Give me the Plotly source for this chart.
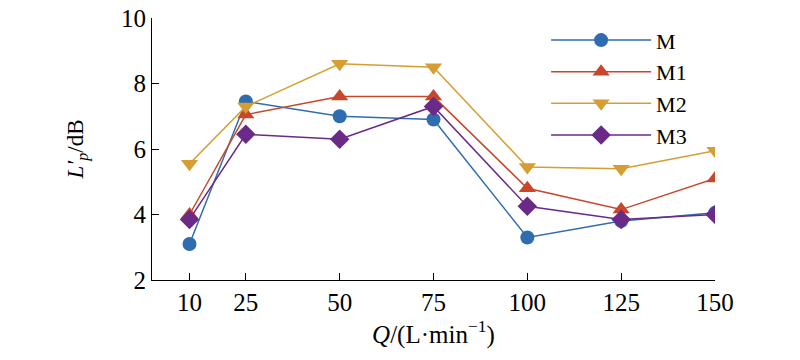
import plotly.graph_objects as go

Q = [10, 25, 50, 75, 100, 125, 150]
M = [3.1, 7.45, 7.0, 6.9, 3.3, 3.8, 4.05]
M1 = [4.0, 7.05, 7.6, 7.6, 4.8, 4.15, 5.1]
M2 = [5.55, 7.3, 8.6, 8.5, 5.45, 5.4, 5.95]
M3 = [3.85, 6.45, 6.3, 7.3, 4.25, 3.85, 4.0]
x_ticks = [10, 25, 50, 75, 100, 125, 150]
y_ticks = [2, 4, 6, 8, 10]

series = [
    ("M", M, "#2F6CB0", "circle", 14),
    ("M1", M1, "#C8472B", "triangle-up", 15),
    ("M2", M2, "#D69E32", "triangle-down", 15),
    ("M3", M3, "#6B2A88", "diamond", 15),
]

font = "'Liberation Serif', serif"
fig = go.Figure()
for name, ys, color, sym, sz in series:
    fig.add_trace(go.Scatter(
        x=Q, y=ys, name=name, mode="lines+markers",
        line=dict(color=color, width=1.5),
        marker=dict(symbol=sym, size=sz, color=color),
    ))

fig.update_layout(
    width=800, height=360,
    margin=dict(l=144, r=93, t=10, b=88),
    paper_bgcolor="white", plot_bgcolor="white",
    font=dict(family=font, size=25, color="black"),
    showlegend=True,
    legend=dict(x=0.70, y=0.995, xanchor="left", yanchor="top",
                bgcolor="rgba(0,0,0,0)", font=dict(size=22, family=font),
                tracegroupgap=0, itemwidth=100),
    xaxis=dict(range=[0, 150], tickvals=x_ticks, ticktext=[str(v) for v in x_ticks],
               showgrid=False, zeroline=False, showline=True, linecolor="black", linewidth=1.2,
               ticks="inside", ticklen=7, tickcolor="black", automargin=False,
               ticklabeloverflow="allow",
               title=dict(text="<i>Q</i>/(L·min<sup>−1</sup>)", font=dict(size=25), standoff=6)),
    yaxis=dict(range=[2, 10], tickvals=y_ticks,
               showgrid=False, zeroline=False, showline=True, linecolor="black", linewidth=1.2,
               ticks="inside", ticklen=7, tickcolor="black", automargin=False,
               ticklabeloverflow="allow",
               title=dict(text="<i>L′</i><sub><i>p</i></sub>/dB", font=dict(size=23), standoff=30)),
)
fig.write_html("out.html")
